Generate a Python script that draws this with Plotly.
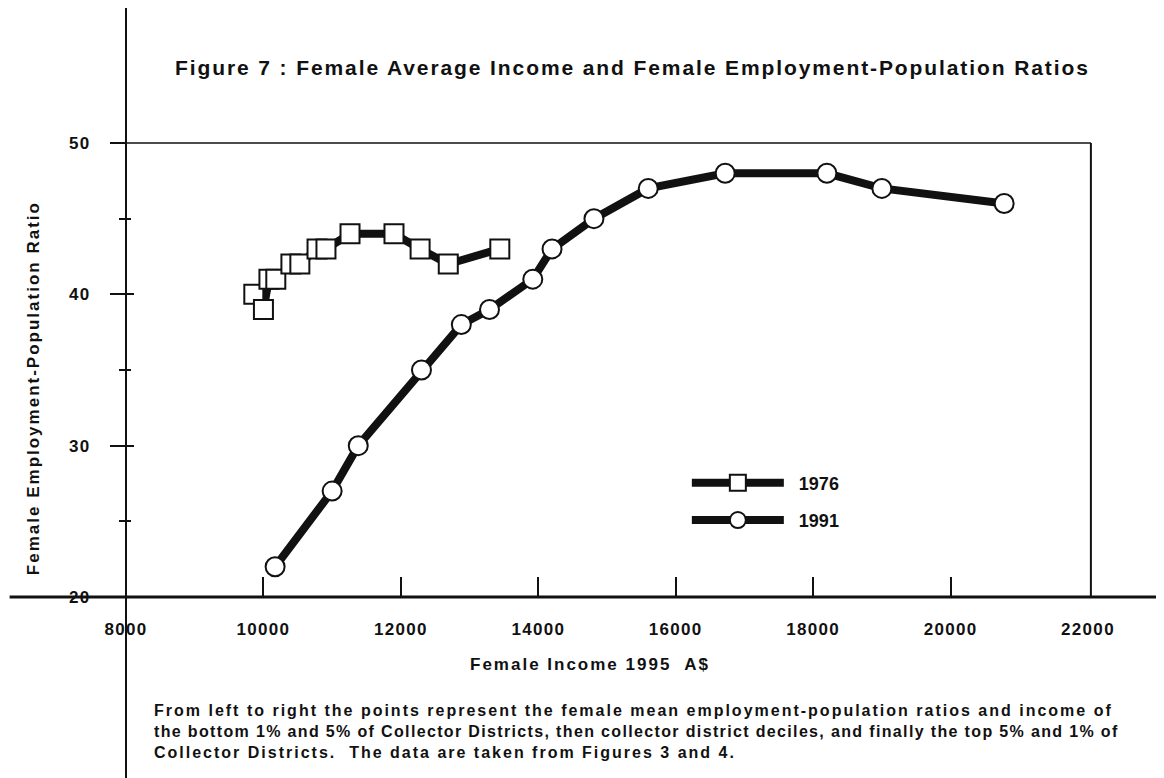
import plotly.graph_objects as go

# ---- data ----
income_1976 = [9860, 10000, 10080, 10180, 10400, 10530, 10780, 10910, 11260, 11900, 12280, 12690, 13440]
ratio_1976 = [40, 39, 41, 41, 42, 42, 43, 43, 44, 44, 43, 42, 43]

income_1991 = [10170, 11000, 11380, 12300, 12880, 13290, 13920, 14200, 14810, 15600, 16720, 18200, 19000, 20780]
ratio_1991 = [22, 27, 30, 35, 38, 39, 41, 43, 45, 47, 48, 48, 47, 46]

x_ticks = [8000, 10000, 12000, 14000, 16000, 18000, 20000, 22000]
x_tick_labels = ["8000", "10000", "12000", "14000", "16000", "18000", "20000", "22000"]
y_ticks = [20, 30, 40, 50]
y_tick_labels = ["20", "30", "40", "50"]
y_minor = [25, 35, 45]

FONT = "Liberation Sans, Arial, sans-serif"
INK = "#111111"


def spaced(s, px):
    return f'<span style="letter-spacing:{px}px">{s}</span>'


fig = go.Figure()
fig.add_trace(go.Scatter(
    x=income_1976, y=ratio_1976, name="\u00a0\u00a01976", mode="lines+markers",
    legendgroup="a",
    line=dict(color=INK, width=8),
    marker=dict(symbol="square", size=19, color="white", line=dict(color=INK, width=2)),
))
fig.add_trace(go.Scatter(
    x=income_1991, y=ratio_1991, name="\u00a0\u00a01991", mode="lines+markers",
    legendgroup="b",
    line=dict(color=INK, width=8),
    marker=dict(symbol="circle", size=19, color="white", line=dict(color=INK, width=2)),
))

# overlay axis to get the inward half of the crossing y ticks
fig.add_trace(go.Scatter(x=[None], y=[None], yaxis="y2", showlegend=False, hoverinfo="skip"))

fig.update_layout(
    width=1156, height=770,
    margin=dict(l=118, r=76, t=135, b=181),
    paper_bgcolor="white", plot_bgcolor="white",
    font=dict(family=FONT, color=INK, size=16),
    showlegend=True,
    legend=dict(
        x=0.583, y=0.292, xanchor="left", yanchor="top",
        bgcolor="rgba(0,0,0,0)", borderwidth=0,
        itemwidth=92, traceorder="grouped", tracegroupgap=11,
        font=dict(family=FONT, size=18, weight="bold", color=INK),
    ),
    xaxis=dict(
        range=[8000, 22000], tickvals=x_ticks,
        ticktext=[spaced(t, 1.3) for t in x_tick_labels],
        ticks="inside", ticklen=20, tickwidth=2, tickcolor=INK,
        showgrid=False, zeroline=False, showline=False,
        tickfont=dict(family=FONT, size=17, weight="bold", color=INK),
        ticklabelstandoff=20,
    ),
    yaxis=dict(
        range=[20, 50], tickvals=y_ticks,
        ticktext=[spaced(t, 1.3) for t in y_tick_labels],
        ticks="outside", ticklen=15, tickwidth=2, tickcolor=INK,
        minor=dict(tickvals=y_minor, ticks="outside", ticklen=6, tickwidth=1.5, tickcolor=INK),
        showgrid=False, zeroline=False, showline=False,
        tickfont=dict(family=FONT, size=17, weight="bold", color=INK),
        ticklabelstandoff=16,
    ),
    yaxis2=dict(
        range=[20, 50], overlaying="y", side="left", anchor="x",
        tickvals=[30, 40], ticks="inside", ticklen=8, tickwidth=2, tickcolor=INK,
        minor=dict(tickvals=y_minor, ticks="inside", ticklen=5, tickwidth=1.5, tickcolor=INK),
        showticklabels=False, showgrid=False, zeroline=False, showline=False,
    ),
    shapes=[
        # long x axis line
        dict(type="line", xref="paper", yref="paper", x0=-0.121, x1=1.08, y0=0, y1=0,
             line=dict(color=INK, width=3)),
        # long y axis line
        dict(type="line", xref="paper", yref="paper", x0=0, x1=0, y0=-0.42, y1=1.32,
             line=dict(color=INK, width=2)),
        # top frame
        dict(type="line", xref="paper", yref="paper", x0=0, x1=1.003, y0=1, y1=1,
             line=dict(color=INK, width=1.5)),
        # right frame
        dict(type="line", xref="paper", yref="paper", x0=1.003, x1=1.003, y0=0, y1=1,
             line=dict(color=INK, width=2)),
    ],
    annotations=[
        dict(text=spaced("Figure 7 : Female Average Income and Female Employment-Population Ratios", 1.9),
             xref="paper", yref="paper", x=0.527, y=1.167, xanchor="center", yanchor="middle",
             showarrow=False, font=dict(family=FONT, size=21, weight="bold", color=INK)),
        dict(text=spaced("Female Employment-Population Ratio", 2), textangle=-90,
             xref="paper", yref="paper", x=-0.0967, y=0.46, xanchor="center", yanchor="middle",
             showarrow=False, font=dict(family=FONT, size=17, weight="bold", color=INK)),
        dict(text=spaced("Female Income 1995  A$", 2),
             xref="paper", yref="paper", x=0.482, y=-0.1476, xanchor="center", yanchor="middle",
             showarrow=False, font=dict(family=FONT, size=17, weight="bold", color=INK)),
        dict(text=spaced("From left to right the points represent the female mean employment-population ratios and income of", 2) + "<br>"
                  + spaced("the bottom 1% and 5% of Collector Districts, then collector district deciles, and finally the top 5% and 1% of", 1.35) + "<br>"
                  + spaced("Collector Districts.  The data are taken from Figures 3 and 4.", 2),
             xref="paper", yref="paper", x=0.027, y=-0.226, xanchor="left", yanchor="top", align="left",
             showarrow=False, font=dict(family=FONT, size=16, weight="bold", color=INK)),
    ],
)

fig.write_html("out.html")
